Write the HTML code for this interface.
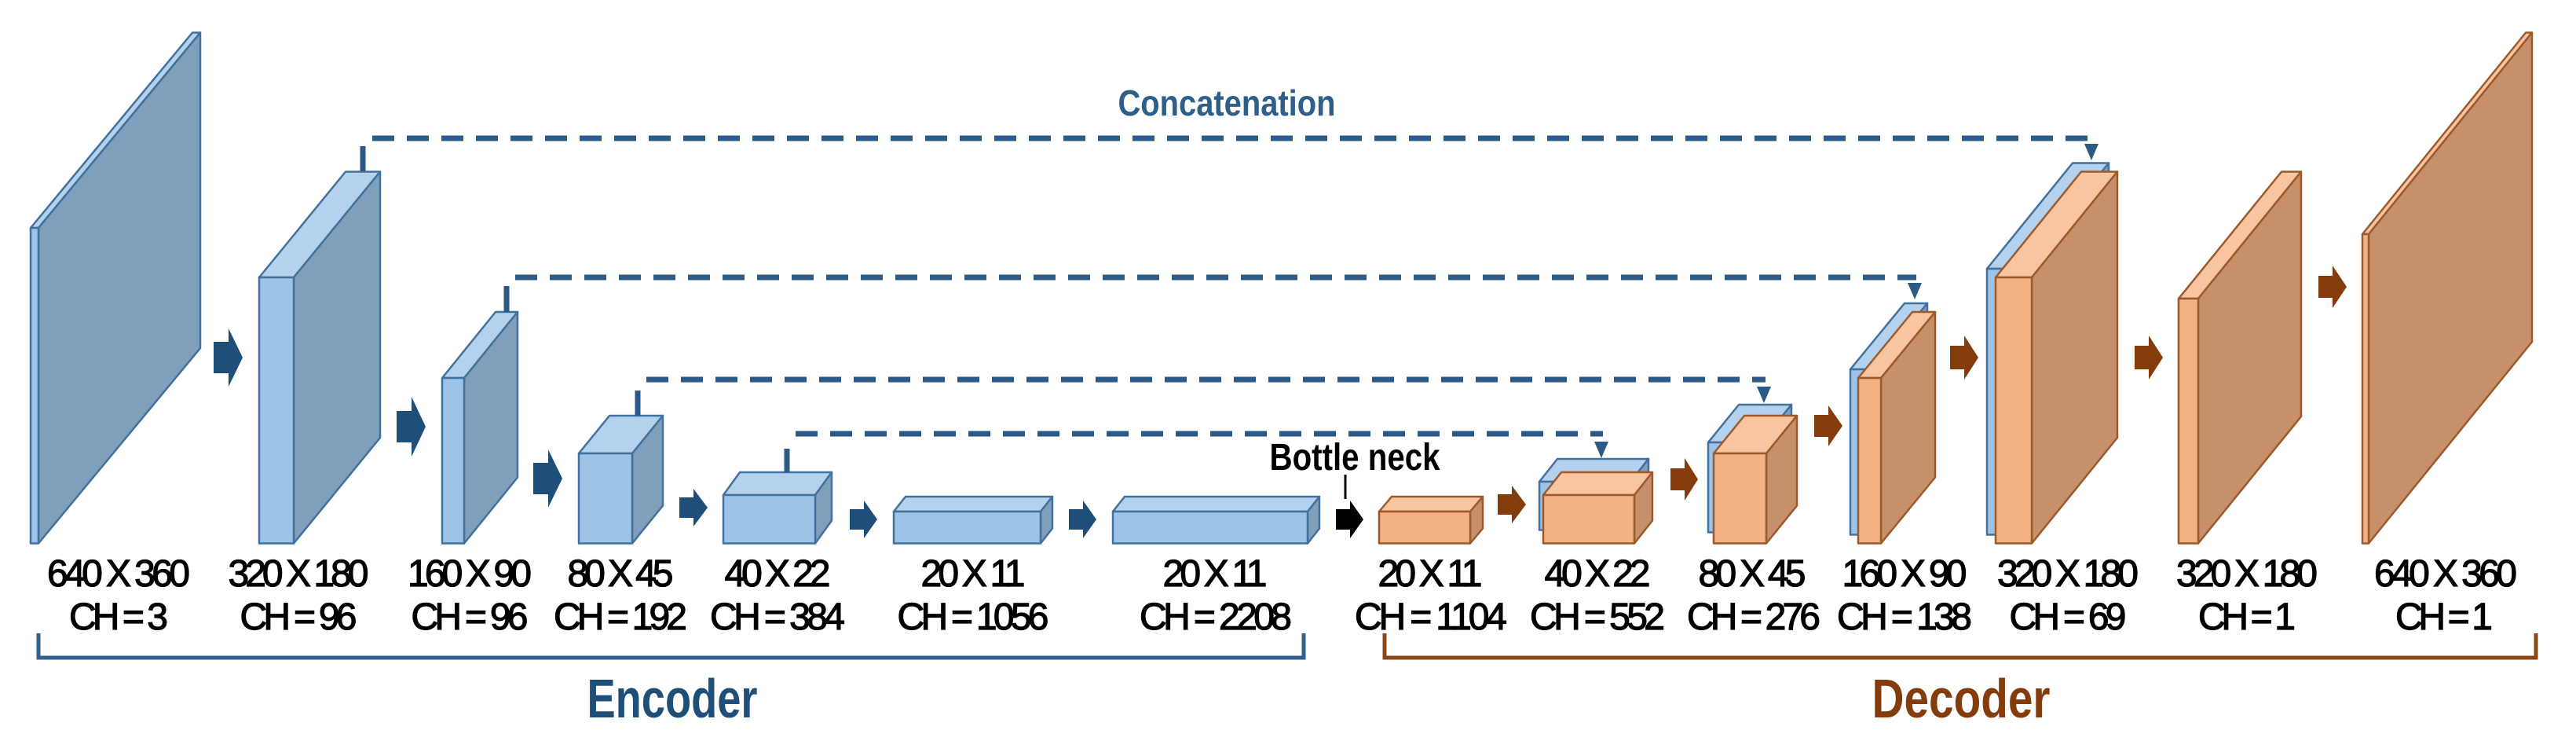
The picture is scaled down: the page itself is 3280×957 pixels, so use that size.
<!DOCTYPE html>
<html><head><meta charset="utf-8"><style>html,body{margin:0;padding:0;background:#fff}svg{display:block}</style></head><body>
<svg width="3280" height="957" viewBox="0 0 3280 957" xmlns="http://www.w3.org/2000/svg" font-family="Liberation Sans, sans-serif">
<g stroke-linejoin="round" stroke-width="2.5">
<g stroke="#41719c">
<polygon points="39,290 49,290 255,41.5 245,41.5" fill="#b4d2ee"/>
<polygon points="49,290 255,41.5 255,443 49,691.5" fill="#7f9fbb"/>
<rect x="39" y="290" width="10" height="401.5" fill="#9dc3e6"/>
<polygon points="330,353 374,353 484,218.5 440,218.5" fill="#b4d2ee"/>
<polygon points="374,353 484,218.5 484,557 374,691.5" fill="#7f9fbb"/>
<rect x="330" y="353" width="44" height="338.5" fill="#9dc3e6"/>
<polygon points="563,481 591,481 659,397 631,397" fill="#b4d2ee"/>
<polygon points="591,481 659,397 659,607.5 591,691.5" fill="#7f9fbb"/>
<rect x="563" y="481" width="28" height="210.5" fill="#9dc3e6"/>
<polygon points="737,577 805,577 844,529 776,529" fill="#b4d2ee"/>
<polygon points="805,577 844,529 844,643.5 805,691.5" fill="#7f9fbb"/>
<rect x="737" y="577" width="68" height="114.5" fill="#9dc3e6"/>
<polygon points="921,630 1038,630 1059,601 942,601" fill="#b4d2ee"/>
<polygon points="1038,630 1059,601 1059,662.5 1038,691.5" fill="#7f9fbb"/>
<rect x="921" y="630" width="117" height="61.5" fill="#9dc3e6"/>
<polygon points="1138,651 1325,651 1340,632 1153,632" fill="#b4d2ee"/>
<polygon points="1325,651 1340,632 1340,672.5 1325,691.5" fill="#7f9fbb"/>
<rect x="1138" y="651" width="187" height="40.5" fill="#9dc3e6"/>
<polygon points="1417,651 1665,651 1680,632 1432,632" fill="#b4d2ee"/>
<polygon points="1665,651 1680,632 1680,672.5 1665,691.5" fill="#7f9fbb"/>
<rect x="1417" y="651" width="248" height="40.5" fill="#9dc3e6"/>
<polygon points="1960,613 2076,613 2099,584 1983,584" fill="#b4d2ee"/>
<polygon points="2076,613 2099,584 2099,645.5 2076,674.5" fill="#7f9fbb"/>
<rect x="1960" y="613" width="116" height="61.5" fill="#9dc3e6"/>
<polygon points="2175,563 2242,563 2281,515 2214,515" fill="#b4d2ee"/>
<polygon points="2242,563 2281,515 2281,629.5 2242,677.5" fill="#7f9fbb"/>
<rect x="2175" y="563" width="67" height="114.5" fill="#9dc3e6"/>
<polygon points="2356,470 2385,470 2454,386 2425,386" fill="#b4d2ee"/>
<polygon points="2385,470 2454,386 2454,596.5 2385,680.5" fill="#7f9fbb"/>
<rect x="2356" y="470" width="29" height="210.5" fill="#9dc3e6"/>
<polygon points="2530,342 2576,342 2685,207.5 2639,207.5" fill="#b4d2ee"/>
<polygon points="2576,342 2685,207.5 2685,546 2576,680.5" fill="#7f9fbb"/>
<rect x="2530" y="342" width="46" height="338.5" fill="#9dc3e6"/>
</g>
<g stroke="#9c5a2c">
<polygon points="1756,651 1872,651 1888,632 1772,632" fill="#f8c5a0"/>
<polygon points="1872,651 1888,632 1888,672.5 1872,691.5" fill="#c5906a"/>
<rect x="1756" y="651" width="116" height="40.5" fill="#f4b183"/>
<polygon points="1965,630 2081,630 2104,601 1988,601" fill="#f8c5a0"/>
<polygon points="2081,630 2104,601 2104,662.5 2081,691.5" fill="#c5906a"/>
<rect x="1965" y="630" width="116" height="61.5" fill="#f4b183"/>
<polygon points="2182,577 2249,577 2288,529 2221,529" fill="#f8c5a0"/>
<polygon points="2249,577 2288,529 2288,643.5 2249,691.5" fill="#c5906a"/>
<rect x="2182" y="577" width="67" height="114.5" fill="#f4b183"/>
<polygon points="2366,481 2395,481 2464,397 2435,397" fill="#f8c5a0"/>
<polygon points="2395,481 2464,397 2464,607.5 2395,691.5" fill="#c5906a"/>
<rect x="2366" y="481" width="29" height="210.5" fill="#f4b183"/>
<polygon points="2541,353 2587,353 2696,218.5 2650,218.5" fill="#f8c5a0"/>
<polygon points="2587,353 2696,218.5 2696,557 2587,691.5" fill="#c5906a"/>
<rect x="2541" y="353" width="46" height="338.5" fill="#f4b183"/>
<polygon points="2774,380 2799,380 2930,218.5 2905,218.5" fill="#f8c5a0"/>
<polygon points="2799,380 2930,218.5 2930,530 2799,691.5" fill="#c5906a"/>
<rect x="2774" y="380" width="25" height="311.5" fill="#f4b183"/>
<polygon points="3008,298 3016,298 3224,41.5 3216,41.5" fill="#f8c5a0"/>
<polygon points="3016,298 3224,41.5 3224,435 3016,691.5" fill="#c5906a"/>
<rect x="3008" y="298" width="8" height="393.5" fill="#f4b183"/>
</g>
</g>
<g fill="#1f4e79">
<polygon points="272,435 291,435 291,418 309,455 291,492 291,475 272,475"/>
<polygon points="505,523 524,523 524,505 542,543 524,581 524,563 505,563"/>
<polygon points="679,589 698,589 698,572 716,609 698,646 698,629 679,629"/>
<polygon points="865,633 883,633 883,622 901,646 883,670 883,659 865,659"/>
<polygon points="1082,648 1100,648 1100,637 1117,661 1100,685 1100,674 1082,674"/>
<polygon points="1361,648 1379,648 1379,637 1396,661 1379,685 1379,674 1361,674"/>
</g>
<polygon fill="#000" points="1701,648 1719,648 1719,637 1736,661 1719,685 1719,674 1701,674"/>
<g fill="#843c0c">
<polygon points="1907,629 1925,629 1925,618 1943,642 1925,666 1925,655 1907,655"/>
<polygon points="2127,596 2145,596 2145,583 2162,610 2145,637 2145,624 2127,624"/>
<polygon points="2310,528 2328,528 2328,516 2346,542 2328,568 2328,556 2310,556"/>
<polygon points="2483,440 2501,440 2501,427 2519,455 2501,483 2501,470 2483,470"/>
<polygon points="2718,440 2736,440 2736,427 2754,455 2736,483 2736,470 2718,470"/>
<polygon points="2952,351 2970,351 2970,338 2988,365 2970,392 2970,379 2952,379"/>
</g>
<g stroke="#2a5a85" stroke-width="7" fill="none">
<line x1="462" y1="186" x2="462" y2="218"/>
<line x1="645" y1="364" x2="645" y2="397"/>
<line x1="812" y1="497" x2="812" y2="529"/>
<line x1="1002" y1="571" x2="1002" y2="601"/>
<g stroke-dasharray="28 16">
<line x1="474" y1="176" x2="2660" y2="176"/>
<line x1="656" y1="353" x2="2440" y2="353"/>
<line x1="823" y1="483" x2="2248" y2="483"/>
<line x1="1013" y1="552" x2="2041" y2="552"/>
</g>
</g>
<g fill="#2a5a85">
<polygon points="2654,183 2672,183 2663,204"/>
<polygon points="2429,360 2447,360 2438,381"/>
<polygon points="2237,492 2255,492 2246,513"/>
<polygon points="2030,562 2048,562 2039,583"/>
</g>
<line x1="1713" y1="604" x2="1713" y2="635" stroke="#000" stroke-width="3"/>
<polyline points="49,806 49,837 1660,837 1660,806" fill="none" stroke="#2e6090" stroke-width="5"/>
<polyline points="1763,806 1763,837 3229,837 3229,806" fill="none" stroke="#8b4513" stroke-width="5"/>
<text x="1562" y="147" font-size="46" font-weight="bold" fill="#2e5f8a" text-anchor="middle" textLength="277" lengthAdjust="spacingAndGlyphs">Concatenation</text>
<text x="1725" y="598" font-size="48" font-weight="bold" fill="#000" text-anchor="middle" textLength="217" lengthAdjust="spacingAndGlyphs">Bottle neck</text>
<text x="856" y="913" font-size="70" font-weight="bold" fill="#1f4e79" text-anchor="middle" textLength="217" lengthAdjust="spacingAndGlyphs">Encoder</text>
<text x="2497" y="913" font-size="70" font-weight="bold" fill="#843c0c" text-anchor="middle" textLength="227" lengthAdjust="spacingAndGlyphs">Decoder</text>
<g font-size="48" fill="#000" stroke="#000" stroke-width="1.2" text-anchor="middle" lengthAdjust="spacingAndGlyphs">
<text x="151" y="746" textLength="182">640 X 360</text>
<text x="151" y="801" textLength="126">CH = 3</text>
<text x="380" y="746" textLength="179">320 X 180</text>
<text x="380" y="801" textLength="149">CH = 96</text>
<text x="598" y="746" textLength="158">160 X 90</text>
<text x="598" y="801" textLength="149">CH = 96</text>
<text x="790" y="746" textLength="135">80 X 45</text>
<text x="790" y="801" textLength="170">CH = 192</text>
<text x="990" y="746" textLength="135">40 X 22</text>
<text x="990" y="801" textLength="172">CH = 384</text>
<text x="1239" y="746" textLength="133">20 X 11</text>
<text x="1239" y="801" textLength="193">CH = 1056</text>
<text x="1547" y="746" textLength="133">20 X 11</text>
<text x="1548" y="801" textLength="194">CH = 2208</text>
<text x="1821" y="746" textLength="133">20 X 11</text>
<text x="1822" y="801" textLength="194">CH = 1104</text>
<text x="2034" y="746" textLength="135">40 X 22</text>
<text x="2034" y="801" textLength="172">CH = 552</text>
<text x="2231" y="746" textLength="137">80 X 45</text>
<text x="2233" y="801" textLength="170">CH = 276</text>
<text x="2425" y="746" textLength="159">160 X 90</text>
<text x="2425" y="801" textLength="172">CH = 138</text>
<text x="2633" y="746" textLength="180">320 X 180</text>
<text x="2633" y="801" textLength="149">CH = 69</text>
<text x="2861" y="746" textLength="180">320 X 180</text>
<text x="2861" y="801" textLength="124">CH = 1</text>
<text x="3114" y="746" textLength="182">640 X 360</text>
<text x="3112" y="801" textLength="124">CH = 1</text>
</g>
</svg>
</body></html>
